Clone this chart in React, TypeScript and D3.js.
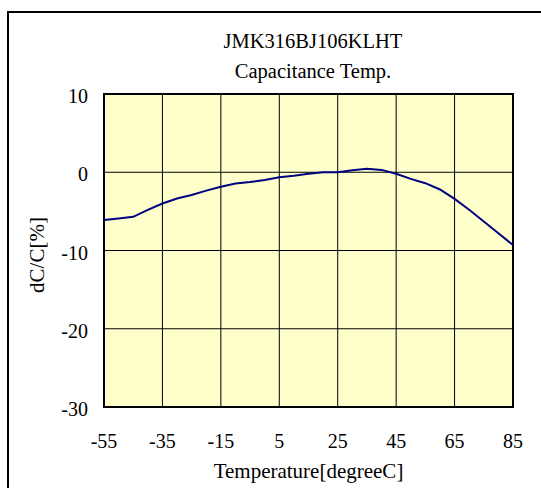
import React, { useEffect, useRef } from 'react';
import * as d3 from 'd3';

// temperature steps [degreeC] and measured capacitance change [%]
const temps = [-55, -50, -45, -40, -35, -30, -25, -20, -15, -10, -5, 0, 5, 10, 15, 20, 25, 30, 35, 40, 45, 50, 55, 60, 65, 70, 75, 80, 85];
const dcValues = [-6.1, -5.9, -5.7, -4.8, -4.0, -3.35, -2.9, -2.35, -1.85, -1.45, -1.25, -1.0, -0.65, -0.45, -0.2, 0, 0, 0.25, 0.45, 0.3, -0.2, -0.85, -1.4, -2.2, -3.4, -4.8, -6.3, -7.8, -9.3];

const xTicks = [-55, -35, -15, 5, 25, 45, 65, 85];
const yTicks = [10, 0, -10, -20, -30];
const titleLines = ['JMK316BJ106KLHT', 'Capacitance Temp.'];

const W = 541;
const H = 488;
const FONT = '"Liberation Serif", "Times New Roman", serif';

const App: React.FC = () => {
  const svgRef = useRef<SVGSVGElement>(null);

  useEffect(() => {
    if (!svgRef.current) return;
    const svg = d3.select(svgRef.current);
    svg.selectAll('*').remove();

    const margin = { top: 94, left: 104, right: 28, bottom: 81 };
    const innerW = W - margin.left - margin.right;
    const innerH = H - margin.top - margin.bottom;

    const x = d3.scaleLinear().domain([-55, 85]).range([0, innerW]);
    const y = d3.scaleLinear().domain([-30, 10]).range([innerH, 0]);

    // outer frame (runs past the right/bottom edges)
    svg.append('rect')
      .attr('x', 8).attr('y', 12)
      .attr('width', 600).attr('height', 600)
      .attr('fill', '#fff')
      .attr('stroke', '#000')
      .attr('stroke-width', 2);

    // titles
    svg.selectAll('.title')
      .data(titleLines)
      .enter()
      .append('text')
      .attr('x', 313)
      .attr('y', (_d, i) => 48 + i * 30)
      .attr('text-anchor', 'middle')
      .style('font-family', FONT)
      .style('font-size', '20.5px')
      .text(d => d);

    const g = svg.append('g').attr('transform', `translate(${margin.left},${margin.top})`);

    g.append('rect')
      .attr('width', innerW)
      .attr('height', innerH)
      .attr('fill', '#FFFFCC');

    // grid
    g.selectAll('.vgrid')
      .data(xTicks)
      .enter()
      .append('line')
      .attr('x1', d => x(d)).attr('x2', d => x(d))
      .attr('y1', 0).attr('y2', innerH)
      .attr('stroke', '#000')
      .attr('stroke-width', 1);

    g.selectAll('.hgrid')
      .data(yTicks)
      .enter()
      .append('line')
      .attr('x1', 0).attr('x2', innerW)
      .attr('y1', d => y(d)).attr('y2', d => y(d))
      .attr('stroke', '#000')
      .attr('stroke-width', 1);

    g.append('rect')
      .attr('width', innerW)
      .attr('height', innerH)
      .attr('fill', 'none')
      .attr('stroke', '#000')
      .attr('stroke-width', 2);

    // curve
    const line = d3.line<number>()
      .x((_d, i) => x(temps[i]))
      .y(d => y(d));

    g.append('path')
      .datum(dcValues)
      .attr('d', line)
      .attr('fill', 'none')
      .attr('stroke', '#000080')
      .attr('stroke-width', 2);

    // tick labels
    g.selectAll('.ylab')
      .data(yTicks)
      .enter()
      .append('text')
      .attr('x', -16)
      .attr('y', d => y(d) + 9)
      .attr('text-anchor', 'end')
      .style('font-family', FONT)
      .style('font-size', '20px')
      .text(d => d);

    g.selectAll('.xlab')
      .data(xTicks)
      .enter()
      .append('text')
      .attr('x', d => x(d))
      .attr('y', innerH + 41)
      .attr('text-anchor', 'middle')
      .style('font-family', FONT)
      .style('font-size', '20px')
      .text(d => d);

    // axis titles
    svg.append('text')
      .attr('x', margin.left + innerW / 2)
      .attr('y', 478)
      .attr('text-anchor', 'middle')
      .style('font-family', FONT)
      .style('font-size', '21px')
      .text('Temperature[degreeC]');

    svg.append('text')
      .attr('transform', `translate(44,255) rotate(-90)`)
      .attr('text-anchor', 'middle')
      .style('font-family', FONT)
      .style('font-size', '21px')
      .text('dC/C[%]');
  }, []);

  return (
    <svg
      ref={svgRef}
      width={W}
      height={H}
      style={{ position: 'absolute', left: 0, top: 0, display: 'block', background: '#fff' }}
    />
  );
};

export default App;
